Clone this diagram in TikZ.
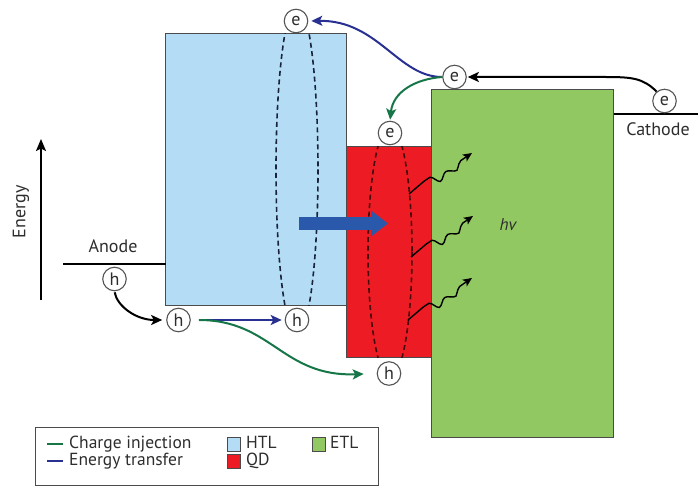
\documentclass[tikz,border=0pt]{standalone}
\usepackage{fontspec}
\setmainfont{PT Sans}
\usetikzlibrary{arrows.meta,decorations.pathmorphing}
\definecolor{htlc}{RGB}{180,220,244}
\definecolor{qdc}{RGB}{237,28,36}
\definecolor{etlc}{RGB}{146,200,98}
\definecolor{edgec}{RGB}{75,75,75}
\definecolor{partc}{RGB}{85,85,85}
\definecolor{greenc}{RGB}{22,118,72}
\definecolor{bluec}{RGB}{40,48,145}
\definecolor{bigblue}{RGB}{42,88,170}
\definecolor{txtc}{RGB}{45,45,45}
\begin{document}
\begin{tikzpicture}[x=1pt,y=-1pt,
  font=\fontsize{18}{20}\selectfont, text=txtc,
  layer/.style={draw=edgec,line width=0.9pt},
  particle/.style={circle,draw=partc,fill=white,line width=1.1pt,minimum size=23.5pt,inner sep=0pt,font=\fontsize{18}{18}\selectfont},
  conn/.style={line width=2pt,-{Stealth[length=11pt,width=10pt,inset=2.5pt]}},
  dashell/.style={dashed,dash pattern=on 5pt off 3.5pt,line width=1.6pt},
  wave/.style={line width=1.4pt,-{Stealth[length=9pt,width=8pt,inset=2pt]},decorate,
     decoration={snake,amplitude=2.6pt,segment length=20pt,pre length=22pt,post length=6pt}},
  legsq/.style={draw=edgec,line width=0.7pt,minimum width=13pt,minimum height=14pt,inner sep=0pt},
  legtxt/.style={anchor=west,inner sep=0pt,font=\fontsize{17.5}{18}\selectfont,text height=11pt,text depth=3pt}]
\useasboundingbox (0,0) rectangle (698,486);

% layers
\draw[layer,fill=htlc] (165.5,33.5) rectangle (346,305.5);
\draw[layer,fill=etlc] (431.5,89.5) rectangle (613.5,437.5);
\draw[layer,fill=qdc] (346,146.5) rectangle (431.5,357.5);

% electrodes
\draw[line width=2pt] (63,263.5) -- (165.5,263.5);
\node (anode) at (113,246) {Anode};
\draw[line width=2pt] (613.5,114.5) -- (698,114.5);
\node (cathode) at (658,129.5) {Cathode};

% energy axis
\coordinate (ebot) at (41,300);
\coordinate (etop) at (41,139);
\draw[line width=2pt,-{Stealth[length=12pt,width=10pt,inset=2.5pt]}] (ebot) -- (etop);
\node[rotate=90] (energy) at (21,212) {Energy};

% dashed ellipses
\begin{scope}
\clip (200,33.5) rectangle (400,305.5);
\draw[dashell,draw={rgb,255:red,25;green,35;blue,60}] (297,169.5) ellipse [x radius=21,y radius=166];
\end{scope}
\begin{scope}
\clip (340,146.5) rectangle (430,357.5);
\draw[dashell,draw={rgb,255:red,70;green,10;blue,10}] (390,252) ellipse [x radius=22,y radius=126];
\end{scope}

% energy-transfer big arrow
\coordinate (ba) at (299,223.5);
\coordinate (bb) at (388,223.5);
\draw[bigblue,line width=13pt,-{Triangle[length=17pt,width=25pt]}] (ba) -- (bb);

% photon emission
\draw[wave] (409,194) .. controls (409,184) and (420,181) .. (432,180) -- (472,153);
\draw[wave] (411,257) .. controls (411,247) and (422,244) .. (434,243) -- (473,216);
\draw[wave] (408,320) .. controls (408,310) and (419,307) .. (431,306) -- (472,278);
\node[font=\itshape\fontsize{17}{17}\selectfont] (hv) at (508,225) {hv};

% particles
\node[particle] (eTop) at (296,21) {e};
\node[particle] (eE) at (454.5,77) {e};
\node[particle] (eC) at (664.5,101) {e};
\node[particle] (eQ) at (390,133) {e};
\node[particle] (hA) at (114.5,279) {h};
\node[particle] (hL) at (178.5,320) {h};
\node[particle] (hR) at (297,320) {h};
\node[particle] (hQ) at (389,373.5) {h};

% connectors
\draw[conn,black,shorten >=1pt] (eC.130) .. controls (643,78) and (632,77) .. (605,77) -- (eE.east);
\draw[conn,bluec,shorten >=3pt] (eE.west) .. controls (398,77) and (378,20) .. (eTop.east);
\draw[conn,greenc,shorten >=1pt] (eE.west) .. controls (415,79) and (393,92) .. (eQ.north);
\draw[conn,black,shorten >=4pt,shorten <=1pt] (hA.south) .. controls (117,306) and (136,320) .. (hL.west);
\draw[conn,bluec,shorten <=8pt,shorten >=3pt] (hL.east) -- (hR.west);
\draw[conn,greenc,shorten <=8pt,shorten >=13pt] (hL.east) .. controls (272,320) and (282,377) .. (hQ.west);

% legend
\draw[draw=edgec,line width=0.8pt] (35,427) rectangle (378,485);
\coordinate (lg1a) at (47,444); \coordinate (lg1b) at (63,444);
\coordinate (lg2a) at (47,461); \coordinate (lg2b) at (63,461);
\draw[greenc,line width=2pt] (lg1a) -- (lg1b);
\draw[bluec,line width=2pt] (lg2a) -- (lg2b);
\node[legtxt] (lt1) at (69,444) {Charge injection};
\node[legtxt] (lt2) at (69,461) {Energy transfer};
\node[legsq,fill=htlc] (sq1) at (233.5,444) {};
\node[legtxt] (lt3) at (246,444) {HTL};
\node[legsq,fill=qdc] (sq2) at (233.5,461) {};
\node[legtxt] (lt4) at (246,461) {QD};
\node[legsq,fill=etlc] (sq3) at (318.5,444) {};
\node[legtxt] (lt5) at (330,444) {ETL};
\end{tikzpicture}
\end{document}
